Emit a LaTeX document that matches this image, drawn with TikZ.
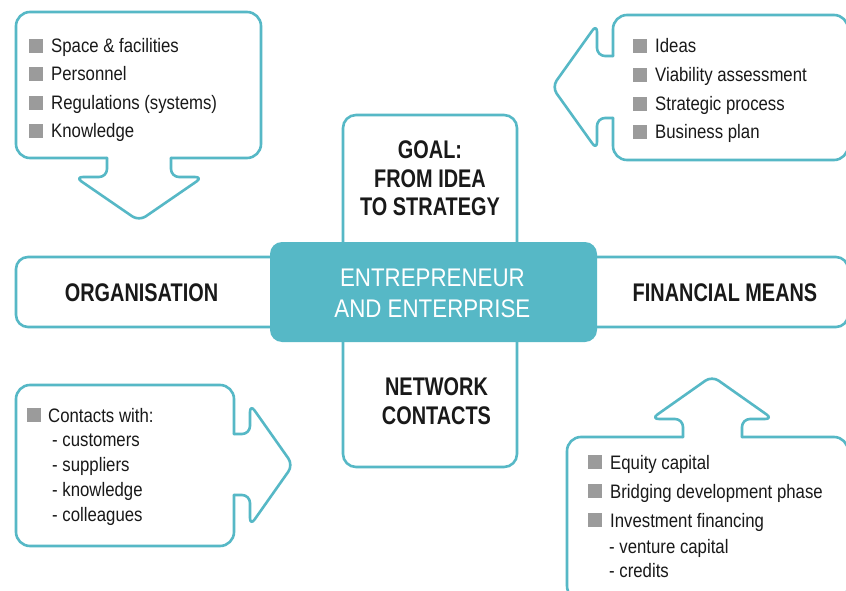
\documentclass[tikz,border=0pt]{standalone}
\usepackage{fontspec}
\setmainfont{Liberation Sans}[FakeStretch=0.86]
\newfontfamily\headfont{Liberation Sans}[FakeStretch=0.78]
\newfontfamily\centerfont{Liberation Sans}[FakeStretch=0.875]
\definecolor{tealc}{RGB}{86,184,198}
\definecolor{sqgray}{RGB}{155,155,155}
\definecolor{ink}{RGB}{25,25,25}
\tikzset{
  outline/.style={draw=tealc, line width=2.6pt, line cap=round, line join=round},
  itemtxt/.style={font=\fontsize{19.5pt}{23pt}\selectfont, text=ink, inner sep=0pt},
  head/.style={font=\headfont\bfseries\fontsize{25.5pt}{28.7pt}\selectfont, text=ink, align=center, inner sep=0pt},
  ctr/.style={font=\centerfont\fontsize{25.5pt}{31.6pt}\selectfont, text=white, align=center, inner sep=0pt},
}
\newcommand\bitem[5]{%
  \fill[sqgray] (#2,#4-14) rectangle (#2+14,#4);
  \node[itemtxt, anchor=base west] (#1) at (#3,#4) {#5};
}
\begin{document}
\begin{tikzpicture}[x=1pt,y=-1pt]
\fill[white] (0,0) rectangle (846,591);
\useasboundingbox (0,0) rectangle (846,591);

% side boxes
\draw[outline, rounded corners=12pt] (16,257) rectangle (300,327);
\draw[outline, rounded corners=12pt] (570,257) rectangle (848,327);
\draw[outline, rounded corners=13pt] (343,115) rectangle (517,260);
\draw[outline, rounded corners=13pt] (343,320) rectangle (517,467);

% centre box
\node[fill=tealc, rounded corners=12pt, minimum width=327pt, minimum height=100pt, inner sep=0pt] (centre) at (433.5,292) {};
\node[ctr] (ctext) at (432.4,293.5) {ENTREPRENEUR\\AND ENTERPRISE};

\node[head] (org) at (141.5,292.5) {ORGANISATION};
\node[head] (fin) at (725,292.5) {FINANCIAL MEANS};
\node[head] (goal) at (430,178.5) {GOAL:\\FROM IDEA\\TO STRATEGY};
\node[head] (net) at (436.5,401.5) {NETWORK\\CONTACTS};

% top-left callout (arrow down)
\draw[outline, rounded corners=14pt] (171,158) -- (261,158) -- (261,12) -- (16,12) -- (16,158) -- (107,158);
\draw[outline, rounded corners=8pt] (107,158) -- (107,177) -- (75,177) -- (139,221) -- (203,177) -- (171,177) -- (171,158);
\bitem{tl1}{29}{51}{53}{Space \& facilities}
\bitem{tl2}{29}{51}{81}{Personnel}
\bitem{tl3}{29}{51}{110}{Regulations (systems)}
\bitem{tl4}{29}{51}{138}{Knowledge}

% top-right callout (arrow left)
\draw[outline, rounded corners=14pt] (613,56) -- (613,15) -- (848,15) -- (848,160) -- (613,160) -- (613,118);
\draw[outline, rounded corners=8pt] (613,118) -- (597,118) -- (597,150) -- (552,87) -- (597,24) -- (597,56) -- (613,56);
\bitem{tr1}{633}{655}{53}{Ideas}
\bitem{tr2}{633}{655}{82}{Viability assessment}
\bitem{tr3}{633}{655}{111}{Strategic process}
\bitem{tr4}{633}{655}{139}{Business plan}

% bottom-left callout (arrow right)
\draw[outline, rounded corners=14pt] (234,434) -- (234,385) -- (16,385) -- (16,546) -- (234,546) -- (234,495);
\draw[outline, rounded corners=8pt] (234,495) -- (250,495) -- (250,526) -- (293,465) -- (250,404) -- (250,434) -- (234,434);
\bitem{bl1}{27}{48}{422}{Contacts with:}
\node[itemtxt, anchor=base west] (bl2) at (52,446) {- customers};
\node[itemtxt, anchor=base west] (bl3) at (52,471) {- suppliers};
\node[itemtxt, anchor=base west] (bl4) at (52,496) {- knowledge};
\node[itemtxt, anchor=base west] (bl5) at (52,521) {- colleagues};

% bottom-right callout (arrow up)
\draw[outline, rounded corners=14pt] (683,437) -- (567,437) -- (567,600) -- (848,600) -- (848,437) -- (742,437);
\draw[outline, rounded corners=8pt] (742,437) -- (742,419) -- (773,419) -- (712,376) -- (651,419) -- (683,419) -- (683,437);
\bitem{br1}{588}{610}{469}{Equity capital}
\bitem{br2}{588}{610}{498}{Bridging development phase}
\bitem{br3}{588}{610}{527}{Investment financing}
\node[itemtxt, anchor=base west] (br4) at (609,553) {- venture capital};
\node[itemtxt, anchor=base west] (br5) at (609,577) {- credits};
\end{tikzpicture}
\end{document}
